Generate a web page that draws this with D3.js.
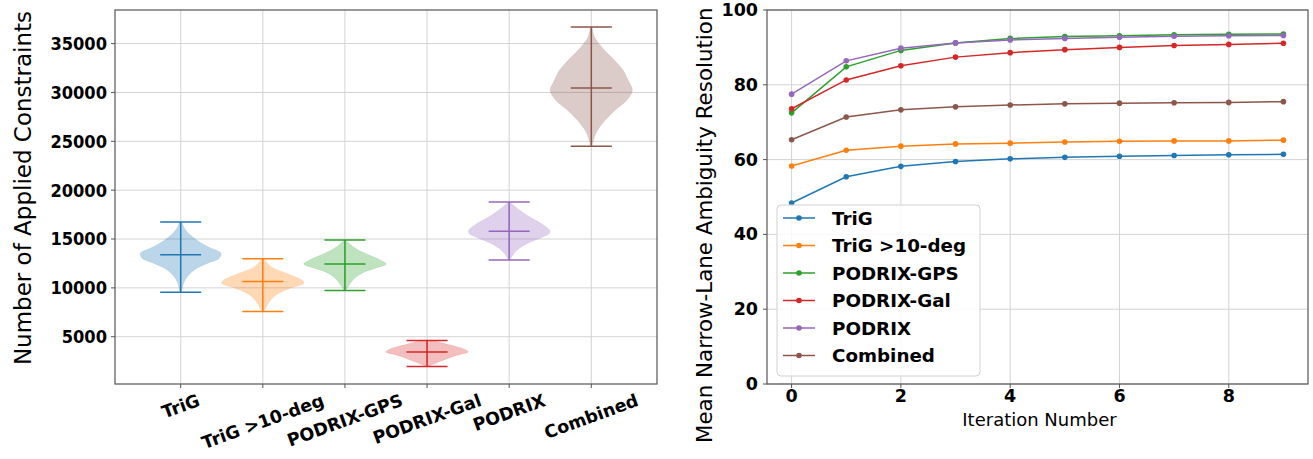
<!DOCTYPE html>
<html>
<head>
<meta charset="utf-8">
<script src="https://cdn.jsdelivr.net/npm/d3@7"></script>
<style>
  html, body { margin: 0; padding: 0; background: #fff; }
  svg { display: block; }
  text { font-family: "DejaVu Sans", sans-serif; fill: #000; }
</style>
</head>
<body>
<svg id="chart" width="1313" height="459"></svg>
<script>
// ---- Violin panel data ----
const categories = ["TriG", "TriG >10-deg", "PODRIX-GPS", "PODRIX-Gal", "PODRIX", "Combined"];
const violinMin = [9560, 7580, 9720, 1940, 12860, 24490];
const violinMax = [16740, 12990, 14900, 4620, 18780, 36700];
const violinMedian = [13400, 10640, 12450, 3440, 15790, 30450];
// density outlines: [constraints, relative width]
const profileTrig = [[16740,0.02],[15920,0.12],[15070,0.33],[14210,0.66],[13540,0.98],[13030,0.94],[12520,0.66],[11840,0.33],[11150,0.16],[10470,0.07],[9560,0.02]];
const profileTrig10 = [[12990,0.02],[12170,0.2],[11500,0.57],[10820,0.94],[10480,1.0],[9970,0.66],[9290,0.33],[8600,0.16],[7930,0.07],[7580,0.02]];
const profileGps = [[14900,0.02],[14210,0.2],[13540,0.49],[12860,0.86],[12450,1.0],[12010,0.74],[11500,0.41],[10820,0.2],[10130,0.08],[9720,0.02]];
const profileGal = [[4620,0.16],[4360,0.37],[4010,0.7],[3670,0.94],[3440,1.0],[3160,0.78],[2830,0.53],[2480,0.33],[2140,0.12],[1940,0.02]];
const profilePodrix = [[18780,0.02],[17960,0.25],[17280,0.49],[16600,0.78],[15920,0.98],[15580,0.98],[15070,0.74],[14560,0.45],[14050,0.25],[13540,0.12],[12860,0.02]];
const profileCombined = [[36700,0.02],[35650,0.08],[34290,0.33],[33270,0.57],[32250,0.78],[31220,0.9],[30200,1.0],[29180,0.86],[28160,0.57],[27140,0.33],[26120,0.15],[25100,0.05],[24490,0.02]];
const profiles = [profileTrig, profileTrig10, profileGps, profileGal, profilePodrix, profileCombined];
const constraintTicks = [5000, 10000, 15000, 20000, 25000, 30000, 35000];

// ---- Line panel data ----
const iterations = [0, 1, 2, 3, 4, 5, 6, 7, 8, 9];
const resTrig = [48.4, 55.4, 58.2, 59.5, 60.2, 60.6, 60.9, 61.1, 61.3, 61.4];
const resTrig10 = [58.3, 62.5, 63.6, 64.2, 64.4, 64.7, 64.9, 65.0, 65.0, 65.2];
const resGps = [72.5, 84.8, 89.2, 91.2, 92.4, 92.9, 93.1, 93.4, 93.5, 93.6];
const resGal = [73.6, 81.3, 85.1, 87.4, 88.6, 89.4, 90.0, 90.5, 90.8, 91.1];
const resPodrix = [77.5, 86.4, 89.8, 91.2, 92.0, 92.4, 92.7, 93.0, 93.1, 93.2];
const resCombined = [65.3, 71.4, 73.3, 74.1, 74.6, 74.9, 75.1, 75.2, 75.3, 75.5];
const seriesNames = ["TriG", "TriG >10-deg", "PODRIX-GPS", "PODRIX-Gal", "PODRIX", "Combined"];
const seriesValues = [resTrig, resTrig10, resGps, resGal, resPodrix, resCombined];
const iterTicks = [0, 2, 4, 6, 8];
const resTicks = [0, 20, 40, 60, 80, 100];

const colors = ["#1f77b4", "#ff7f0e", "#2ca02c", "#d62728", "#9467bd", "#8c564b"];
const gridColor = "#d3d3d3";
const spineColor = "#555";

const svg = d3.select("#chart");

// ================= Left: violins =================
const L = { left: 115, right: 657, top: 10, bottom: 384 };
const xV = d3.scaleLinear().domain([0.2, 6.8]).range([L.left, L.right]);
const yV = d3.scaleLinear().domain([160, 38440]).range([L.bottom, L.top]);
const gL = svg.append("g");

// grid
gL.selectAll(".hg").data(constraintTicks).enter().append("line")
  .attr("x1", L.left).attr("x2", L.right)
  .attr("y1", d => yV(d)).attr("y2", d => yV(d))
  .attr("stroke", gridColor).attr("stroke-width", 1);
gL.selectAll(".vg").data(categories).enter().append("line")
  .attr("x1", (d, i) => xV(i + 1)).attr("x2", (d, i) => xV(i + 1))
  .attr("y1", L.top).attr("y2", L.bottom)
  .attr("stroke", gridColor).attr("stroke-width", 1);

// violin bodies with extrema and median bars
const violinWidth = 1.0;
categories.forEach((c, i) => {
  const pos = i + 1;
  const area = d3.area()
    .y(d => yV(d[0]))
    .x0(d => xV(pos - d[1] * violinWidth / 2))
    .x1(d => xV(pos + d[1] * violinWidth / 2))
    .curve(d3.curveCatmullRom);
  gL.append("path").datum(profiles[i])
    .attr("d", area)
    .attr("fill", colors[i]).attr("fill-opacity", 0.3)
    .attr("stroke", colors[i]).attr("stroke-opacity", 0.15).attr("stroke-width", 0.8);
  const cap = violinWidth / 4;
  const lines = [
    [pos - cap, violinMax[i], pos + cap, violinMax[i]],
    [pos - cap, violinMin[i], pos + cap, violinMin[i]],
    [pos - cap, violinMedian[i], pos + cap, violinMedian[i]],
    [pos, violinMin[i], pos, violinMax[i]]
  ];
  lines.forEach(l => {
    gL.append("line")
      .attr("x1", xV(l[0])).attr("x2", xV(l[2]))
      .attr("y1", yV(l[1])).attr("y2", yV(l[3]))
      .attr("stroke", colors[i]).attr("stroke-width", 1.5);
  });
});

// frame
gL.append("rect").attr("x", L.left).attr("y", L.top)
  .attr("width", L.right - L.left).attr("height", L.bottom - L.top)
  .attr("fill", "none").attr("stroke", spineColor).attr("stroke-width", 1.2);

// y ticks
constraintTicks.forEach(t => {
  const y = yV(t);
  gL.append("line").attr("x1", L.left - 4).attr("x2", L.left).attr("y1", y).attr("y2", y)
    .attr("stroke", spineColor).attr("stroke-width", 1);
  gL.append("text")
    .attr("transform", `translate(${L.left - 8},${y}) scale(0.88,1)`)
    .attr("text-anchor", "end").attr("dominant-baseline", "central")
    .attr("font-size", 18.5).attr("font-weight", "bold").text(t);
});

// x ticks, rotated labels
categories.forEach((c, i) => {
  const x = xV(i + 1);
  gL.append("line").attr("x1", x).attr("x2", x).attr("y1", L.bottom).attr("y2", L.bottom + 4)
    .attr("stroke", spineColor).attr("stroke-width", 1);
  const g = gL.append("g");
  const t = g.append("text").attr("text-anchor", "middle").attr("dominant-baseline", "central")
    .attr("font-size", 17.5).attr("font-weight", "bold").text(c);
  const len = t.node().getComputedTextLength();
  const a = 20 * Math.PI / 180;
  const h = 17.5 * 1.05;
  const halfH = (len * Math.sin(a) + h * Math.cos(a)) / 2;
  g.attr("transform", `translate(${x},${L.bottom + 7 + halfH}) rotate(-20)`);
});

// y title
gL.append("text")
  .attr("transform", `translate(31,188) rotate(-90)`)
  .attr("text-anchor", "middle")
  .attr("font-size", 23).text("Number of Applied Constraints");

// ================= Right: lines =================
const R = { left: 767, right: 1308, top: 10, bottom: 384 };
const xR = d3.scaleLinear().domain([-0.45, 9.45]).range([R.left, R.right]);
const yR = d3.scaleLinear().domain([0, 100]).range([R.bottom, R.top]);
const gR = svg.append("g");

gR.selectAll(".hg").data(resTicks).enter().append("line")
  .attr("x1", R.left).attr("x2", R.right)
  .attr("y1", d => yR(d)).attr("y2", d => yR(d))
  .attr("stroke", gridColor).attr("stroke-width", 1);
gR.selectAll(".vg").data(iterTicks).enter().append("line")
  .attr("x1", d => xR(d)).attr("x2", d => xR(d))
  .attr("y1", R.top).attr("y2", R.bottom)
  .attr("stroke", gridColor).attr("stroke-width", 1);

const line = d3.line().x((d, i) => xR(iterations[i])).y(d => yR(d));
seriesValues.forEach((vals, s) => {
  gR.append("path").datum(vals).attr("d", line)
    .attr("fill", "none").attr("stroke", colors[s]).attr("stroke-width", 1.5);
  gR.selectAll(null).data(vals).enter().append("circle")
    .attr("cx", (d, i) => xR(iterations[i])).attr("cy", d => yR(d))
    .attr("r", 2.8).attr("fill", colors[s]);
});

gR.append("rect").attr("x", R.left).attr("y", R.top)
  .attr("width", R.right - R.left).attr("height", R.bottom - R.top)
  .attr("fill", "none").attr("stroke", spineColor).attr("stroke-width", 1.2);

resTicks.forEach(t => {
  const y = yR(t);
  gR.append("line").attr("x1", R.left - 4).attr("x2", R.left).attr("y1", y).attr("y2", y)
    .attr("stroke", spineColor).attr("stroke-width", 1);
  gR.append("text").attr("x", R.left - 9).attr("y", y)
    .attr("text-anchor", "end").attr("dominant-baseline", "central")
    .attr("font-size", 17.5).attr("font-weight", "bold").text(t);
});
iterTicks.forEach(t => {
  const x = xR(t);
  gR.append("line").attr("x1", x).attr("x2", x).attr("y1", R.bottom).attr("y2", R.bottom + 4)
    .attr("stroke", spineColor).attr("stroke-width", 1);
  gR.append("text").attr("x", x).attr("y", 402)
    .attr("text-anchor", "middle")
    .attr("font-size", 17.5).attr("font-weight", "bold").text(t);
});

gR.append("text").attr("x", (R.left + R.right) / 2 + 2).attr("y", 426)
  .attr("text-anchor", "middle").attr("font-size", 18).text("Iteration Number");

gR.append("text")
  .attr("transform", `translate(712,443) rotate(-90)`)
  .attr("text-anchor", "start")
  .attr("font-size", 21.4).text("Mean Narrow-Lane Ambiguity Resolution");

// legend
const lg = gR.append("g");
lg.append("rect").attr("x", 777).attr("y", 205).attr("width", 203).attr("height", 171)
  .attr("rx", 4).attr("fill", "#fff").attr("fill-opacity", 0.85)
  .attr("stroke", "#d0d0d0").attr("stroke-width", 1);
seriesNames.forEach((n, i) => {
  const y = 218 + i * 27.5;
  lg.append("line").attr("x1", 783).attr("x2", 815).attr("y1", y).attr("y2", y)
    .attr("stroke", colors[i]).attr("stroke-width", 1.5);
  lg.append("circle").attr("cx", 799).attr("cy", y).attr("r", 2.8).attr("fill", colors[i]);
  lg.append("text").attr("x", 832).attr("y", y).attr("dominant-baseline", "central")
    .attr("font-size", 18.3).attr("font-weight", "bold").text(n);
});
</script>
</body>
</html>
